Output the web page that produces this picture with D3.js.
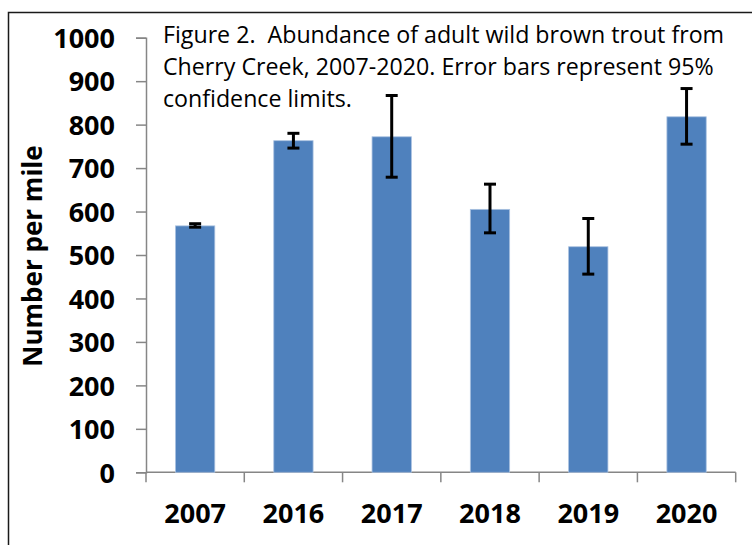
<!DOCTYPE html>
<html>
<head>
<meta charset="utf-8">
<script src="https://cdn.jsdelivr.net/npm/d3@7"></script>
<style>
  body { margin: 0; background: #fff; }
  svg { display: block; }
  .caption { white-space: pre; }
</style>
</head>
<body>
<div id="graph"></div>
<script>
"use strict"

var years = ["2007", "2016", "2017", "2018", "2019", "2020"]
var abundance = [567, 763, 772, 605, 519, 818]
var lowerCL = [564, 746, 679, 551, 456, 755]
var upperCL = [572, 780, 867, 663, 584, 883]
var yTicks = [0, 100, 200, 300, 400, 500, 600, 700, 800, 900, 1000]
var titleLines = [
    "Figure 2.  Abundance of adult wild brown trout from",
    "Cherry Creek, 2007-2020. Error bars represent 95%",
    "confidence limits."
]

var width = 752, height = 545
var margin = {top: 37.7, left: 146, right: 16.3, bottom: 72.7}
var chartWidth = width - margin.left - margin.right
var chartHeight = height - margin.top - margin.bottom

main()

function main() {
    let svg = d3.select("#graph").append("svg")
        .attr("width", width).attr("height", height)

    // outer frame (only top and left edges are visible)
    svg.append("path")
        .attr("d", "M8.5," + height + " V12.5 H" + width)
        .attr("fill", "none")
        .attr("stroke", "#1a1a1a")
        .attr("stroke-width", 1.5)

    let chart = svg.append("g")
        .attr("transform", "translate(" + [margin.left, margin.top] + ")")

    let x = d3.scaleBand().domain(years).range([0, chartWidth]).paddingInner(0.6).paddingOuter(0.3)
    let xEdges = d3.scaleLinear().domain([0, years.length]).range([0, chartWidth])
    let y = d3.scaleLinear().domain([0, 1000]).range([chartHeight, 0])

    // y axis
    let yAxis = chart.append("g")
        .call(d3.axisLeft(y).tickValues(yTicks).tickFormat(d3.format("d")).tickSize(10).tickPadding(21))
    yAxis.select(".domain").attr("stroke", "#868686").attr("stroke-width", 1.5)
    yAxis.selectAll(".tick line").attr("stroke", "#868686").attr("stroke-width", 1.5)
    yAxis.selectAll(".tick text")
        .attr("font-family", "'Open Sans', sans-serif")
        .attr("font-weight", "bold")
        .attr("font-size", "27px")
        .attr("fill", "#000")
        .attr("dy", "0.36em")

    // x axis: line with ticks at category boundaries
    chart.append("line")
        .attr("x1", 0).attr("x2", chartWidth)
        .attr("y1", chartHeight).attr("y2", chartHeight)
        .attr("stroke", "#868686").attr("stroke-width", 1.5)
    chart.selectAll(".xtick")
        .data(d3.range(years.length + 1))
        .enter().append("line")
        .attr("class", "xtick")
        .attr("x1", d => xEdges(d)).attr("x2", d => xEdges(d))
        .attr("y1", chartHeight).attr("y2", chartHeight + 10)
        .attr("stroke", "#868686").attr("stroke-width", 1.5)
    chart.selectAll(".xlabel")
        .data(years)
        .enter().append("text")
        .attr("class", "xlabel")
        .attr("x", d => x(d) + x.bandwidth() / 2)
        .attr("y", chartHeight + 51)
        .attr("text-anchor", "middle")
        .attr("font-family", "'Open Sans', sans-serif")
        .attr("font-weight", "bold")
        .attr("font-size", "27px")
        .text(d => d)

    // bars
    chart.selectAll(".bar")
        .data(years)
        .enter().append("rect")
        .attr("class", "bar")
        .attr("x", d => x(d))
        .attr("width", x.bandwidth())
        .attr("y", (d, i) => y(abundance[i]))
        .attr("height", (d, i) => chartHeight - y(abundance[i]))
        .attr("fill", "#4f81bd")
        .attr("stroke", "#a9c1e0")
        .attr("stroke-width", 0.8)

    // error bars
    let err = chart.selectAll(".err")
        .data(years)
        .enter().append("g")
        .attr("class", "err")
        .attr("transform", d => "translate(" + (x(d) + x.bandwidth() / 2) + ",0)")
    err.append("line")
        .attr("y1", (d, i) => y(lowerCL[i])).attr("y2", (d, i) => y(upperCL[i]))
    err.append("line")
        .attr("x1", -6).attr("x2", 6)
        .attr("y1", (d, i) => y(lowerCL[i])).attr("y2", (d, i) => y(lowerCL[i]))
    err.append("line")
        .attr("x1", -6).attr("x2", 6)
        .attr("y1", (d, i) => y(upperCL[i])).attr("y2", (d, i) => y(upperCL[i]))
    err.selectAll("line").attr("stroke", "#000").attr("stroke-width", 3)

    // y axis title
    svg.append("text")
        .attr("transform", "translate(42,256) rotate(-90)")
        .attr("text-anchor", "middle")
        .attr("font-family", "'Open Sans', sans-serif")
        .attr("font-weight", "bold")
        .attr("font-size", "26px")
        .text("Number per mile")

    // caption inside the plot
    svg.selectAll(".caption")
        .data(titleLines)
        .enter().append("text")
        .attr("class", "caption")
        .attr("x", 163)
        .attr("y", (d, i) => 43 + i * 32)
        .attr("font-family", "'Open Sans', sans-serif")
        .attr("font-size", "23.2px")
        .attr("fill", "#000")
        .text(d => d)
}
</script>
</body>
</html>
